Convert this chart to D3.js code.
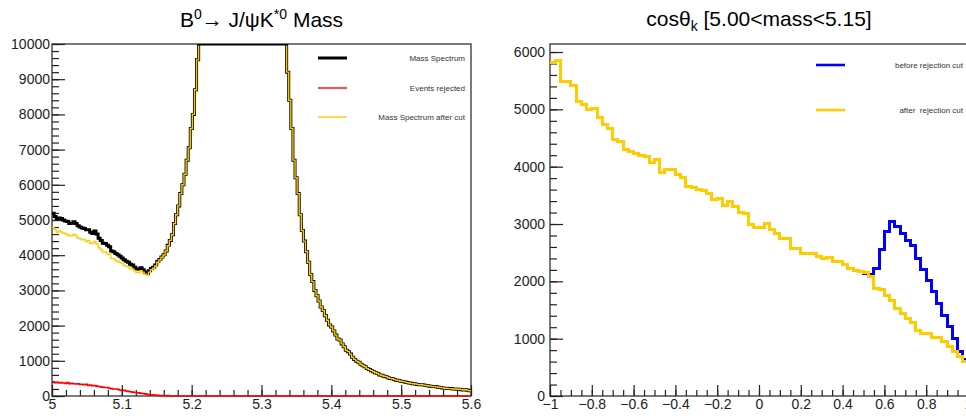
<!DOCTYPE html>
<html>
<head>
<meta charset="utf-8">
<script src="https://cdn.jsdelivr.net/npm/d3@7"></script>
<style>
body { margin: 0; background: #fff; }
svg { display: block; font-family: "Liberation Sans", Arial, Helvetica, sans-serif; }
</style>
</head>
<body>
<svg width="966" height="416"></svg>
<script>
// ---------- data : left pad, B0 mass (200 bins, 5.0 - 5.6) ----------
const massRange = [5.0, 5.6];
const massYMax = 10000;
const massXTicks = [5, 5.1, 5.2, 5.3, 5.4, 5.5, 5.6];
const massYTicks = [0, 1000, 2000, 3000, 4000, 5000, 6000, 7000, 8000, 9000, 10000];

// full mass spectrum (black)
const massSpectrum = [
  5190, 5100, 5040, 5060, 5040, 5000, 4970, 4960, 4900, 4910,
  4950, 4900, 4840, 4800, 4770, 4760, 4720, 4720, 4650, 4620,
  4690, 4600, 4480, 4420, 4340, 4330, 4280, 4240, 4120, 4100,
  4050, 4010, 3970, 3920, 3870, 3830, 3800, 3740, 3720, 3660,
  3610, 3600, 3640, 3590, 3520, 3480, 3560, 3620, 3660, 3720,
  3820, 3880, 3950, 4010, 4120, 4280, 4420, 4580, 4900, 5150,
  5400, 5750, 6000, 6300, 6700, 7050, 7600, 8000, 8700, 9550,
  10600, 11800, 13200, 14800, 16500, 18400, 20500, 22600, 24800, 26900,
  28800, 30500, 32000, 33200, 34100, 34700, 35000, 34900, 34500, 33800,
  32800, 31500, 30000, 28300, 26500, 24600, 22700, 20800, 19000, 17300,
  15800, 14500, 13400, 12500, 11800, 11200, 10800, 10500, 10300, 10200,
  10100, 10050, 9200, 8400, 7600, 6700, 6200, 5750, 5150, 4700,
  4400, 4100, 3800, 3450, 3250, 3000, 2850, 2700, 2530, 2430,
  2280, 2150, 2020, 1960, 1850, 1730, 1620, 1590, 1480, 1400,
  1300, 1260, 1190, 1100, 1040, 990, 960, 900, 860, 830,
  780, 750, 720, 690, 660, 640, 600, 590, 560, 550,
  520, 500, 490, 470, 450, 440, 420, 410, 400, 380,
  370, 360, 350, 340, 330, 320, 320, 310, 300, 290,
  280, 270, 270, 260, 250, 240, 230, 220, 220, 210,
  210, 200, 200, 190, 190, 180, 170, 180, 160, 150
];
// rejected events (red), zero beyond the listed bins
const massRejected = [
  400, 380, 390, 370, 380, 370, 360, 380, 350, 360,
  350, 340, 350, 330, 330, 320, 330, 300, 310, 290,
  300, 280, 270, 260, 250, 240, 240, 220, 210, 200,
  200, 190, 170, 160, 160, 140, 130, 120, 110, 100,
  100, 90, 80, 70, 60, 50, 40, 35, 30, 25,
  20, 15, 10, 5, 0, 12
];
// spectrum after the cut (yellow) = full - rejected
const massAfterCut = massSpectrum.map((v, i) => v - (massRejected[i] || 0));
const massRejectedAll = massSpectrum.map((v, i) => massRejected[i] || 0);

// ---------- data : right pad, cos(theta_k) (80 bins, -1 - 1) ----------
const cosRange = [-1, 1];
const cosYMax = 6140;
const cosXTicks = [-1, -0.8, -0.6, -0.4, -0.2, 0, 0.2, 0.4, 0.6, 0.8, 1];
const cosYTicks = [0, 1000, 2000, 3000, 4000, 5000, 6000];

const cosAfter = [
  5810, 5860, 5490, 5490, 5410, 5130, 5080, 4990, 5010, 4860,
  4730, 4660, 4470, 4440, 4300, 4260, 4230, 4200, 4180, 4070,
  4120, 3900, 3950, 3950, 3860, 3810, 3650, 3630, 3610, 3580,
  3540, 3420, 3440, 3330, 3390, 3300, 3200, 3190, 3000, 2940,
  2940, 3010, 2900, 2840, 2740, 2740, 2580, 2580, 2490, 2490,
  2480, 2440, 2400, 2420, 2340, 2340, 2290, 2230, 2190, 2170,
  2150, 2080, 1880, 1850, 1760, 1670, 1530, 1440, 1360, 1280,
  1150, 1090, 1090, 1020, 1020, 950, 860, 770, 690, 600
];
const cosBefore = [
  5810, 5860, 5490, 5490, 5410, 5130, 5080, 4990, 5010, 4860,
  4730, 4660, 4470, 4440, 4300, 4260, 4230, 4200, 4180, 4070,
  4120, 3900, 3950, 3950, 3860, 3810, 3650, 3630, 3610, 3580,
  3540, 3420, 3440, 3330, 3390, 3300, 3200, 3190, 3000, 2940,
  2940, 3010, 2900, 2840, 2740, 2740, 2580, 2580, 2490, 2490,
  2480, 2440, 2400, 2420, 2340, 2340, 2290, 2230, 2190, 2180,
  2140, 2120, 2230, 2550, 2870, 3040, 2950, 2840, 2720, 2630,
  2400, 2200, 2020, 1820, 1620, 1410, 1210, 1010, 770, 630
];

// ---------- drawing ----------
var svg = d3.select("svg");
var YELLOW = "#ffcc00";

function histPath(values, range, xs, ys, ymax) {
  var n = values.length, w = (range[1] - range[0]) / n;
  var pts = values.map(function (v, i) { return [range[0] + i * w, v]; });
  pts.push([range[1], values[n - 1]]);
  return d3.line()
    .x(function (d) { return xs(d[0]); })
    .y(function (d) { return ys(Math.min(d[1], ymax)); })
    .curve(d3.curveStepAfter)(pts);
}

function drawAxes(g, xs, ys, xTicks, xMinor, yTicks, yMinor, yPad) {
  var ax = g.append("g").attr("transform", "translate(0," + ys.range()[0] + ")");
  ax.call(d3.axisBottom(xs).tickValues(xMinor).tickSize(-6).tickFormat(""));
  ax.append("g").call(d3.axisBottom(xs).tickValues(xTicks).tickSize(-11).tickPadding(3)
    .tickFormat(function (d) { return d3.format("")(+d.toFixed(2)); }));
  var ay = g.append("g").attr("transform", "translate(" + xs.range()[0] + ",0)");
  ay.call(d3.axisLeft(ys).tickValues(yMinor).tickSize(-7).tickFormat(""));
  ay.append("g").call(d3.axisLeft(ys).tickValues(yTicks).tickSize(-13).tickPadding(yPad)
    .tickFormat(d3.format("d")));
  g.selectAll(".domain").remove();
  g.selectAll(".tick line").attr("stroke", "#222").attr("stroke-width", 1.2);
  g.selectAll(".tick text").attr("font-size", 14).attr("fill", "#222")
    .attr("font-family", "'Liberation Sans', Arial, sans-serif");
}

// ----- left pad -----
var L = { x0: 52, x1: 471, y0: 44, y1: 396 };
var xMass = d3.scaleLinear().domain(massRange).range([L.x0, L.x1]);
var yMass = d3.scaleLinear().domain([0, massYMax]).range([L.y1, L.y0]);

var defs = svg.append("defs");
defs.append("clipPath").attr("id", "clipL").append("rect")
  .attr("x", L.x0).attr("y", L.y0).attr("width", L.x1 - L.x0).attr("height", L.y1 - L.y0 + 3);
defs.append("clipPath").attr("id", "clipLy").append("rect")
  .attr("x", L.x0).attr("y", L.y0 + 1.6).attr("width", L.x1 - L.x0).attr("height", L.y1 - L.y0);

var gl = svg.append("g");
gl.append("rect").attr("x", L.x0).attr("y", L.y0).attr("width", L.x1 - L.x0).attr("height", L.y1 - L.y0)
  .attr("fill", "none").attr("stroke", "#222").attr("stroke-width", 1.2);
drawAxes(gl, xMass, yMass, massXTicks, d3.range(5, 5.6001, 0.02), massYTicks, d3.range(0, 10001, 200), 2);

gl.append("path").attr("d", histPath(massSpectrum, massRange, xMass, yMass, massYMax))
  .attr("clip-path", "url(#clipL)").attr("fill", "none").attr("stroke", "#000").attr("stroke-width", 3);
gl.append("path").attr("d", histPath(massRejectedAll, massRange, xMass, yMass, massYMax))
  .attr("clip-path", "url(#clipL)").attr("fill", "none").attr("stroke", "#ff0000").attr("stroke-width", 1.6);
gl.append("path").attr("d", histPath(massAfterCut, massRange, xMass, yMass, massYMax))
  .attr("clip-path", "url(#clipLy)").attr("fill", "none").attr("stroke", YELLOW).attr("stroke-width", 1.4);

// title
var tL = gl.append("text").attr("x", (L.x0 + L.x1) / 2).attr("y", 27).attr("text-anchor", "middle")
  .attr("font-size", 21).attr("fill", "#000");
tL.append("tspan").text("B");
tL.append("tspan").attr("dy", -8).attr("font-size", 14).text("0");
tL.append("tspan").attr("dy", 8).text("\u2192 J/\u03c8K");
tL.append("tspan").attr("dy", -8).attr("font-size", 14).text("*0");
tL.append("tspan").attr("dy", 8).text(" Mass");

// legend
var legL = [
  { label: "Mass Spectrum", color: "#000", w: 3, y: 58 },
  { label: "Events rejected", color: "#ff0000", w: 1.4, y: 88 },
  { label: "Mass Spectrum after cut", color: YELLOW, w: 1.4, y: 117 }
];
legL.forEach(function (d) {
  gl.append("line").attr("x1", 318).attr("x2", 347).attr("y1", d.y).attr("y2", d.y)
    .attr("stroke", d.color).attr("stroke-width", d.w);
  gl.append("text").attr("x", 465).attr("y", d.y + 3).attr("text-anchor", "end")
    .attr("font-size", 8).attr("fill", "#333").text(d.label);
});

// ----- right pad -----
var R = { x0: 550, x1: 968, y0: 44, y1: 396 };
var xCos = d3.scaleLinear().domain(cosRange).range([R.x0, R.x1]);
var yCos = d3.scaleLinear().domain([0, cosYMax]).range([R.y1, R.y0]);

defs.append("clipPath").attr("id", "clipR").append("rect")
  .attr("x", R.x0).attr("y", R.y0).attr("width", R.x1 - R.x0).attr("height", R.y1 - R.y0);

var gr = svg.append("g");
gr.append("rect").attr("x", R.x0).attr("y", R.y0).attr("width", R.x1 - R.x0).attr("height", R.y1 - R.y0)
  .attr("fill", "none").attr("stroke", "#222").attr("stroke-width", 1.2);
drawAxes(gr, xCos, yCos, cosXTicks, d3.range(-1, 1.0001, 0.05), cosYTicks, d3.range(0, 6001, 200), 5);

// same crisp pixels for both, so the blue one does not fringe the yellow one
gr.append("path").attr("d", histPath(cosBefore, cosRange, xCos, yCos, cosYMax))
  .attr("clip-path", "url(#clipR)").attr("fill", "none").attr("stroke", "#0000ff")
  .attr("stroke-width", 3).attr("shape-rendering", "crispEdges");
gr.append("path").attr("d", histPath(cosAfter, cosRange, xCos, yCos, cosYMax))
  .attr("clip-path", "url(#clipR)").attr("fill", "none").attr("stroke", YELLOW)
  .attr("stroke-width", 3).attr("shape-rendering", "crispEdges");

var tR = gr.append("text").attr("x", (R.x0 + R.x1) / 2).attr("y", 26).attr("text-anchor", "middle")
  .attr("font-size", 21).attr("fill", "#000");
tR.append("tspan").text("cos\u03b8");
tR.append("tspan").attr("dy", 5).attr("font-size", 14).text("k");
tR.append("tspan").attr("dy", -5).text(" [5.00<mass<5.15]");

var legR = [
  { label: "before rejection cut", color: "#0000ff", y: 65 },
  { label: "after  rejection cut", color: YELLOW, y: 110 }
];
legR.forEach(function (d) {
  gr.append("line").attr("x1", 816).attr("x2", 845).attr("y1", d.y).attr("y2", d.y)
    .attr("stroke", d.color).attr("stroke-width", 2.6);
  gr.append("text").attr("x", 963).attr("y", d.y + 3).attr("text-anchor", "end")
    .attr("font-size", 8).attr("fill", "#333").attr("xml:space", "preserve").text(d.label);
});
</script>
</body>
</html>
